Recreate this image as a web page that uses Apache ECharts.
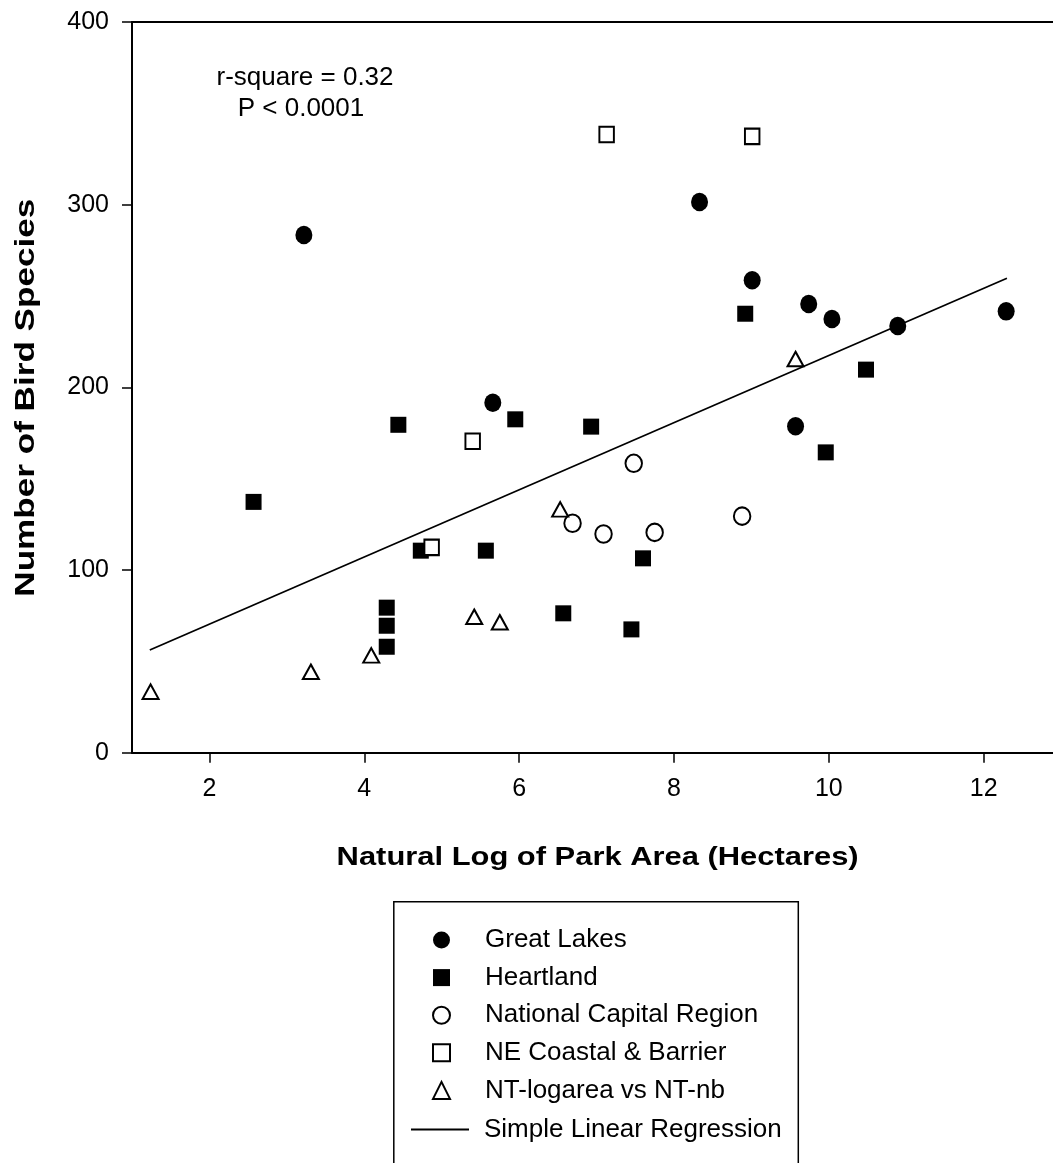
<!DOCTYPE html>
<html>
<head>
<meta charset="utf-8">
<script src="https://cdn.jsdelivr.net/npm/echarts@6/dist/echarts.min.js"></script>
<style>html,body{margin:0;padding:0;background:#fff}#c{width:1053px;height:1163px}</style>
</head>
<body>
<div id="c"></div>
<script>
// ---- data ----
const greatLakes = [[3.22,283.4],[5.66,191.6],[8.33,301.5],[9.01,258.6],[9.74,245.6],[10.04,237.4],[10.89,233.6],[12.29,241.6],[9.57,178.7]];
const heartland = [[2.57,137.3],[4.29,79.4],[4.29,69.5],[4.29,58.0],[4.44,179.5],[4.73,110.6],[5.57,110.6],[5.95,182.5],[6.57,76.3],[6.93,178.5],[7.45,67.5],[7.60,106.4],[8.92,240.3],[9.96,164.4],[10.48,209.7]];
const nationalCapital = [[7.48,158.4],[6.69,125.6],[7.09,119.7],[7.75,120.6],[8.88,129.5]];
const neCoastal = [[5.40,170.5],[4.87,112.4],[9.01,337.4],[7.13,338.4]];
const ntLogarea = [[9.57,215.5],[6.53,133.2],[5.42,74.4],[5.75,71.4],[1.24,33.4],[3.31,44.3],[4.09,53.3]];
const regression = [[1.23,56.2],[12.30,259.7]];
const xTicks = [2,4,6,8,10,12];
const yTicks = [0,100,200,300,400];
const seriesNames = ['Great Lakes','Heartland','National Capital Region','NE Coastal & Barrier','NT-logarea vs NT-nb','Simple Linear Regression'];
const statsText = ['r-square = 0.32','P < 0.0001'];
const xTitle = 'Natural Log of Park Area (Hectares)';
const yTitle = 'Number of Bird Species';

const FF = '"Liberation Sans", Arial, Helvetica, sans-serif';
const chart = echarts.init(document.getElementById('c'), null, {renderer:'canvas'});
const openStyle = {color:'#fff', borderColor:'#000', borderWidth:2, opacity:1};
const fillStyle = {color:'#000', opacity:1};
const legendText = {color:'#000', fontSize:26, fontFamily:FF, lineHeight:26};

chart.setOption({
  animation:false,
  backgroundColor:'#fff',
  grid:{left:132, top:22, right:0, bottom:410.3, containLabel:false},
  xAxis:[{
    type:'value', min:1, max:12.895, position:'bottom',
    axisLine:{show:true, onZero:false, lineStyle:{color:'#000', width:2}},
    axisTick:{show:true, length:10, customValues:xTicks, lineStyle:{color:'#000', width:1.5}},
    axisLabel:{customValues:xTicks, color:'#000', fontSize:25, fontFamily:FF, margin:24},
    splitLine:{show:false}
  },{
    type:'value', min:1, max:12.895, position:'top',
    axisLine:{show:true, onZero:false, lineStyle:{color:'#000', width:2}},
    axisTick:{show:false}, axisLabel:{show:false}, splitLine:{show:false}
  }],
  yAxis:{
    type:'value', min:0, max:400, interval:100,
    axisLine:{show:true, onZero:false, lineStyle:{color:'#000', width:2}},
    axisTick:{show:true, length:10, lineStyle:{color:'#000', width:1.5}},
    axisLabel:{color:'#000', fontSize:25, fontFamily:FF, margin:23,
      formatter: v => yTicks.includes(v) ? String(v) : ''},
    splitLine:{show:false}
  },
  legend:[{
    orient:'vertical', left:432, top:927, padding:0,
    itemWidth:17, itemHeight:17, itemGap:11.6,
    textStyle:Object.assign({padding:[0,0,0,30]}, legendText),
    data:seriesNames.slice(0,5),
    selectedMode:false
  },{
    orient:'vertical', left:411, top:1116.5, padding:0,
    itemWidth:58, itemHeight:1.8, icon:'rect',
    itemStyle:{color:'#000', borderWidth:0},
    textStyle:Object.assign({padding:[0,0,0,10]}, legendText),
    data:seriesNames.slice(5),
    selectedMode:false
  }],
  series:[
    {name:seriesNames[0], type:'scatter', data:greatLakes, symbol:'circle', symbolSize:[17,18.5], itemStyle:fillStyle, z:3},
    {name:seriesNames[1], type:'scatter', data:heartland, symbol:'rect', symbolSize:16, itemStyle:fillStyle, z:3},
    {name:seriesNames[2], type:'scatter', data:nationalCapital, symbol:'circle', symbolSize:[16.5,17.5], itemStyle:openStyle, z:3},
    {name:seriesNames[3], type:'scatter', data:neCoastal, symbol:'rect', symbolSize:[14.5,15.5], itemStyle:openStyle, z:3},
    {name:seriesNames[4], type:'scatter', data:ntLogarea, symbol:'triangle', symbolSize:[16,14.5], itemStyle:openStyle, z:3},
    {name:seriesNames[5], type:'line', data:regression, symbol:'none', lineStyle:{color:'#000', width:1.8}, itemStyle:{color:'#000'}, z:2}
  ],
  graphic:[
    {type:'text', x:305, y:77.5, style:{text:statsText[0], fontSize:26, fontFamily:FF, fill:'#000', align:'center', verticalAlign:'middle'}},
    {type:'text', x:301, y:108.7, style:{text:statsText[1], fontSize:26, fontFamily:FF, fill:'#000', align:'center', verticalAlign:'middle'}},
    {type:'text', x:597.6, y:858, scaleX:1.236, style:{text:xTitle, fontSize:25, fontWeight:'bold', fontFamily:FF, fill:'#000', align:'center', verticalAlign:'middle'}},
    {type:'text', x:26, y:397.7, rotation:Math.PI/2, scaleX:1.254, style:{text:yTitle, fontSize:28, fontWeight:'bold', fontFamily:FF, fill:'#000', align:'center', verticalAlign:'middle'}},
    {type:'polyline', shape:{points:[[393.8,1175],[393.8,901.7],[798.3,901.7],[798.3,1175]]}, style:{stroke:'#000', lineWidth:1.5, fill:null}}
  ]
});
</script>
</body>
</html>
